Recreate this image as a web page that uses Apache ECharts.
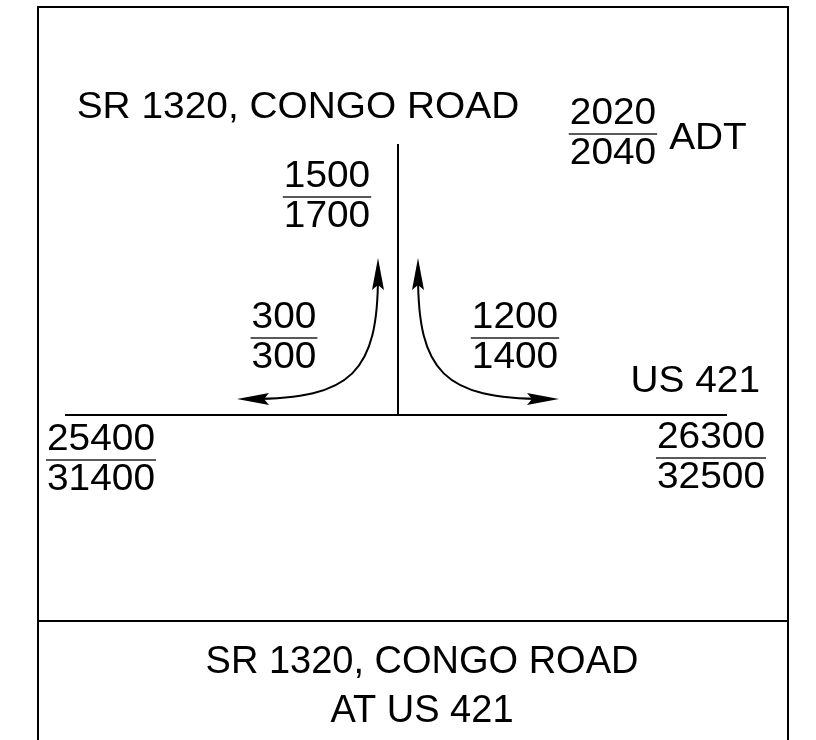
<!DOCTYPE html>
<html>
<head>
<meta charset="utf-8">
<script src="https://cdn.jsdelivr.net/npm/echarts@6/dist/echarts.min.js"></script>
<style>
html, body { margin: 0; padding: 0; background: #fff; }
#chart { width: 816px; height: 740px; }
</style>
</head>
<body>
<div id="chart"></div>
<script>
// ADT volumes, upper number = 2020, lower number = 2040
var years = [2020, 2040];
var legNames = ['SR 1320 north leg', 'US 421 west leg', 'US 421 east leg'];
var leg2020 = [1500, 25400, 26300];
var leg2040 = [1700, 31400, 32500];
var turnNames = ['SR 1320 to US 421 west', 'SR 1320 to US 421 east'];
var turn2020 = [300, 1200];
var turn2040 = [300, 1400];
var sideRoad = 'SR 1320, CONGO ROAD';
var mainRoad = 'US 421';
var unitLabel = 'ADT';
var titleLines = ['SR 1320, CONGO ROAD', 'AT US 421'];

// layout, in page pixels (x axis 0..816, y axis 0..740 downwards)
var legPos = [[327, 197], [101, 460], [711, 458]];   // center x, fraction bar y
var turnPos = [[284, 338], [515, 338]];
var yearPos = [613, 134];
var FONT = '"Liberation Sans", Arial, Helvetica, sans-serif';
var fs = 37, sx = 1.05;          // upper drawing text, a bit wide like the CAD font
var titleFs = 38;

var fracData = [];
for (var i = 0; i < leg2020.length; i++) {
    fracData.push([legPos[i][0], legPos[i][1], leg2020[i], leg2040[i]]);
}
for (var j = 0; j < turn2020.length; j++) {
    fracData.push([turnPos[j][0], turnPos[j][1], turn2020[j], turn2040[j]]);
}
fracData.push([yearPos[0], yearPos[1], years[0], years[1]]);

// plain labels: x, baseline y, align, size, scale
var labelText = [sideRoad, unitLabel, mainRoad, titleLines[0], titleLines[1]];
var labelData = [
    [298, 119, 'center', fs, sx],
    [708, 150, 'center', fs, sx],
    [760, 393, 'right', fs, sx],
    [422, 674, 'center', titleFs, 1],
    [422, 723, 'center', titleFs, 1]
];

function textEl(p, s, size, scale, align) {
    return {
        type: 'text',
        x: p[0],
        y: p[1] - 0.31 * size,
        scaleX: scale,
        style: {
            text: s,
            fontSize: size,
            fontFamily: FONT,
            fill: '#000',
            align: align,
            verticalAlign: 'middle'
        }
    };
}

function arrowHead(api, tip, dir) {
    // dir: unit vector the arrow points to
    var len = 32, half = 6;
    var bx = tip[0] - dir[0] * len, by = tip[1] - dir[1] * len;
    var nx = -dir[1], ny = dir[0];
    var pts = [
        tip,
        [bx + nx * half, by + ny * half],
        [bx + dir[0] * 5, by + dir[1] * 5],
        [bx - nx * half, by - ny * half]
    ].map(function (q) { return api.coord(q); });
    return { type: 'polygon', shape: { points: pts }, style: { fill: '#000' } };
}

function curve(api, a, c1, c2, b) {
    var A = api.coord(a), C1 = api.coord(c1), C2 = api.coord(c2), B = api.coord(b);
    return {
        type: 'bezierCurve',
        shape: { x1: A[0], y1: A[1], cpx1: C1[0], cpy1: C1[1], cpx2: C2[0], cpy2: C2[1], x2: B[0], y2: B[1] },
        style: { stroke: '#000', lineWidth: 2, fill: null }
    };
}

function seg(api, a, b, w, col) {
    var A = api.coord(a), B = api.coord(b);
    return {
        type: 'line',
        shape: { x1: A[0], y1: A[1], x2: B[0], y2: B[1] },
        style: { stroke: col || '#000', lineWidth: w }
    };
}

var chart = echarts.init(document.getElementById('chart'));

var option = {
    animation: false,
    backgroundColor: '#fff',
    grid: { left: 0, right: 0, top: 0, bottom: 0 },
    xAxis: { type: 'value', min: 0, max: 816, show: false },
    yAxis: { type: 'value', min: 0, max: 740, inverse: true, show: false },
    series: [
        {
            // frame, roads and turning arrows
            type: 'custom',
            silent: true,
            data: [[0, 0]],
            renderItem: function (params, api) {
                return {
                    type: 'group',
                    children: [
                        seg(api, [38, 7], [788, 7], 2),
                        seg(api, [38, 6], [38, 740], 2),
                        seg(api, [788, 6], [788, 740], 2),
                        seg(api, [38, 621], [788, 621], 2),
                        seg(api, [398, 144], [398, 415], 2),
                        seg(api, [65, 415], [727, 415], 2),
                        curve(api, [378, 275], [378, 372], [352, 399], [250, 399]),
                        curve(api, [418, 275], [418, 372], [444, 399], [546, 399]),
                        arrowHead(api, [378, 258], [0, -1]),
                        arrowHead(api, [237, 399], [-1, 0]),
                        arrowHead(api, [418, 258], [0, -1]),
                        arrowHead(api, [559, 399], [1, 0])
                    ]
                };
            }
        },
        {
            // volume fractions
            type: 'custom',
            silent: true,
            data: fracData,
            renderItem: function (params, api) {
                var cx = api.value(0), by = api.value(1);
                var top = String(api.value(2)), bot = String(api.value(3));
                var n = Math.max(top.length, bot.length);
                var half = (n * 0.556 * fs * sx + 2) / 2;
                return {
                    type: 'group',
                    children: [
                        textEl(api.coord([cx, by - 9]), top, fs, sx, 'center'),
                        seg(api, [cx - half, by], [cx + half, by], 1.5, '#222'),
                        textEl(api.coord([cx, by + 31]), bot, fs, sx, 'center')
                    ]
                };
            }
        },
        {
            // road names and title block
            type: 'custom',
            silent: true,
            data: labelData.map(function (d) { return [d[0], d[1]]; }),
            renderItem: function (params, api) {
                var d = labelData[params.dataIndex];
                return textEl(api.coord([api.value(0), api.value(1)]), labelText[params.dataIndex], d[3], d[4], d[2]);
            }
        }
    ]
};
chart.setOption(option);
</script>
</body>
</html>
